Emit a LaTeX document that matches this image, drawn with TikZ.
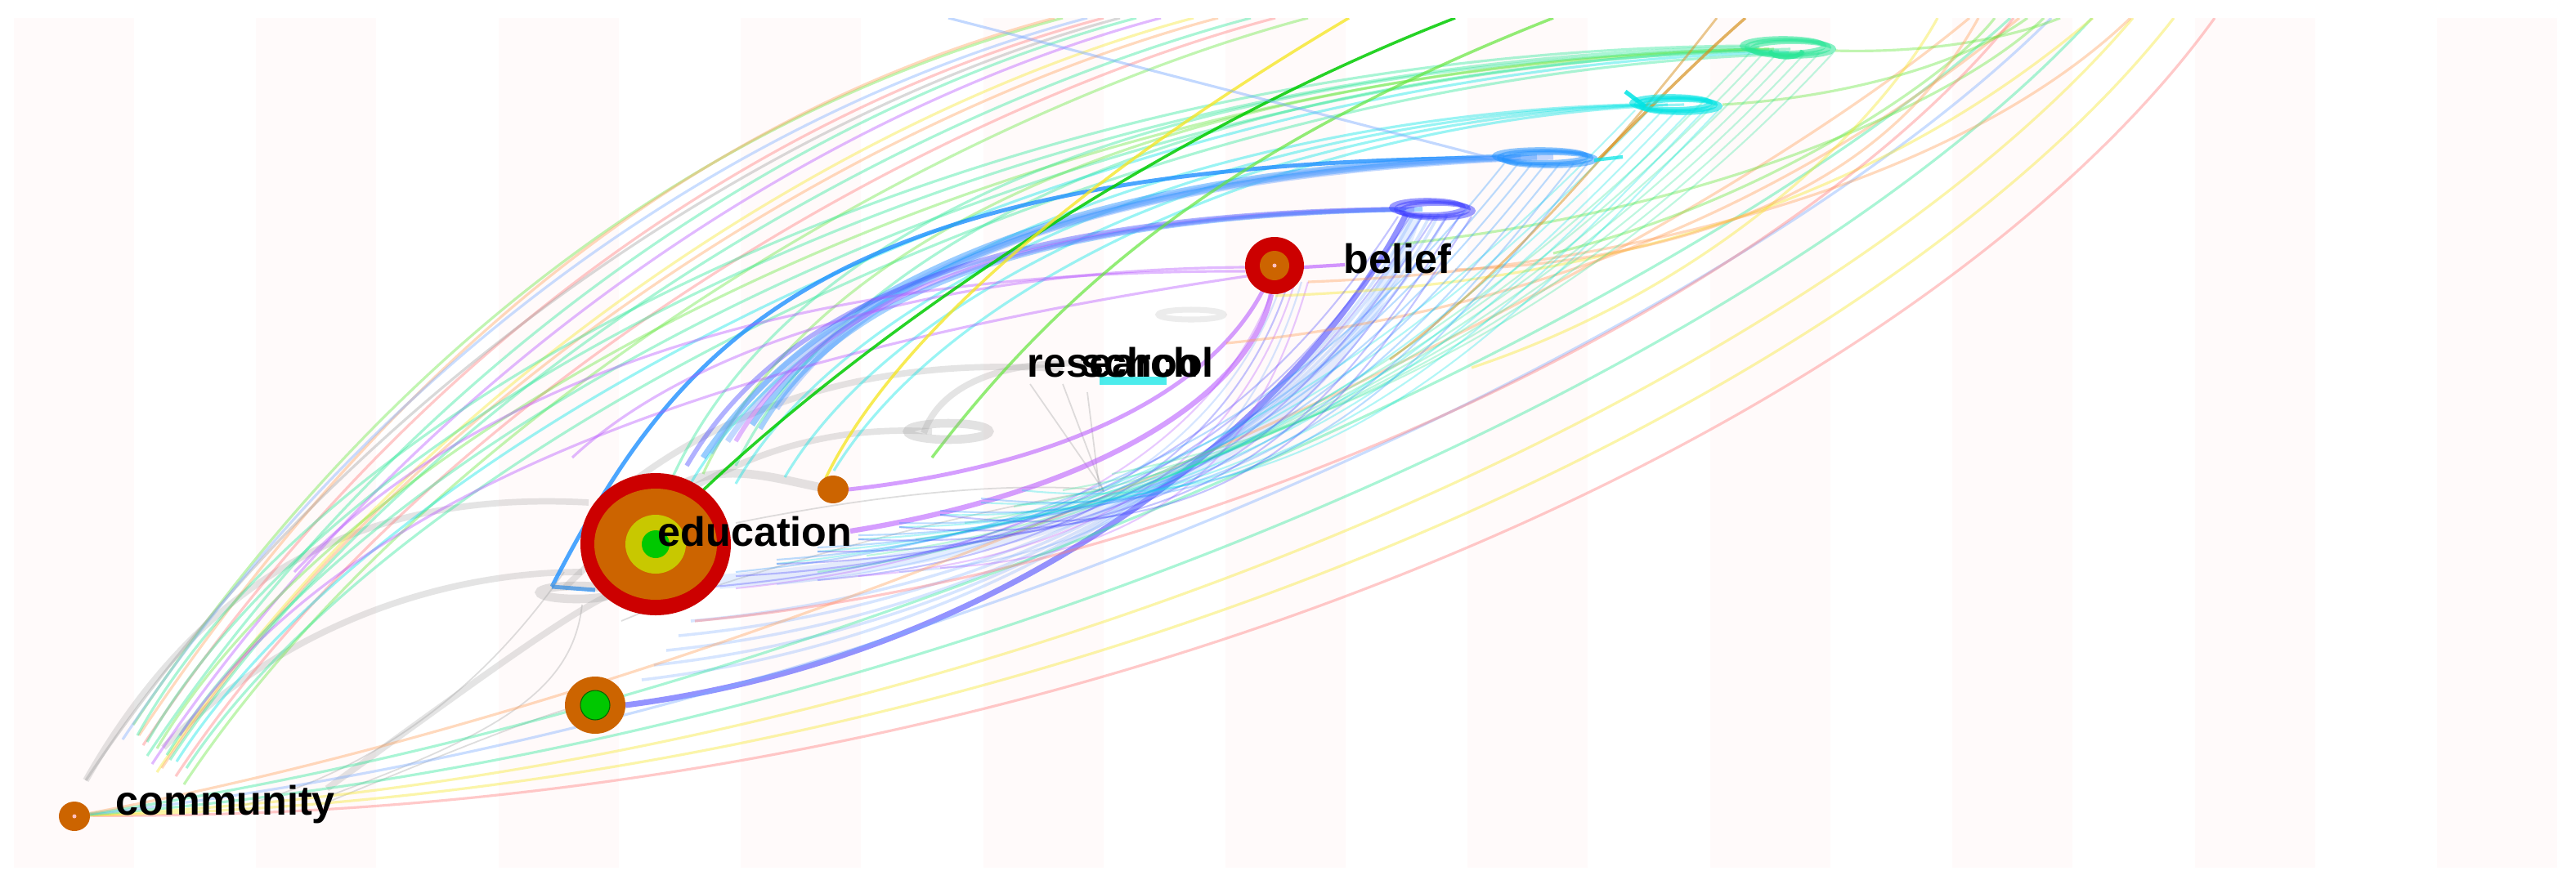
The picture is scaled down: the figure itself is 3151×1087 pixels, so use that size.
\documentclass[tikz,border=0pt]{standalone}
\usepackage{fontspec}
\setmainfont{Liberation Sans}
\definecolor{cred}{RGB}{204,0,0}
\definecolor{corange}{RGB}{204,100,0}
\definecolor{cyel}{RGB}{200,200,0}
\definecolor{cgreen}{RGB}{0,200,0}
\definecolor{stripe}{RGB}{255,250,250}
\definecolor{lgreen}{RGB}{100,230,60}
\definecolor{teal1}{RGB}{40,230,150}
\definecolor{cyan1}{RGB}{0,228,228}
\definecolor{blue1}{RGB}{30,144,255}
\definecolor{dblue}{RGB}{60,60,255}
\definecolor{purp}{RGB}{180,80,255}
\definecolor{lorange}{RGB}{255,160,90}
\definecolor{lpink}{RGB}{255,120,120}
\definecolor{lyellow}{RGB}{245,230,40}
\definecolor{lblue}{RGB}{120,170,255}
\definecolor{greyc}{RGB}{160,160,160}
\definecolor{gold}{RGB}{215,145,30}
\begin{document}
\begin{tikzpicture}[x=0.01cm,y=-0.01cm,
  ln/.style={line width=0.9pt,opacity=0.4},
  hatch/.style={line width=0.6pt,opacity=0.3},
  thk/.style={line width=2pt,opacity=0.45},
  greyarc/.style={greyc,line width=2.2pt,opacity=0.28},
  greythin/.style={greyc,line width=0.5pt,opacity=0.35},
  lbl/.style={font=\bfseries\fontsize{14.3}{16}\selectfont,anchor=base west,inner sep=0pt,text=black}]
\useasboundingbox (0,0) rectangle (3151,1087);
\fill[white] (0,0) rectangle (3151,1087);
\foreach \k in {0,...,10}
  \fill[stripe] ({17+296.4*\k},22) rectangle ({164+296.4*\k},1062);
\begin{scope}
\clip (0,22) rectangle (3151,1062);
% grey arcs (community - education - school)
\draw[greyarc] (105,955) .. controls (250,700) and (450,600) .. (720,615);
\draw[greyarc] (200,915) .. controls (350,760) and (550,700) .. (712,700);
\draw[greyarc] (400,965) .. controls (560,850) and (680,760) .. (745,728);
\draw[greythin] (400,975) .. controls (600,900) and (700,850) .. (712,740);
\draw[greythin] (400,982) .. controls (550,920) and (650,880) .. (700,866);
\draw[greythin] (300,985) .. controls (500,930) and (620,800) .. (690,700);
\draw[greyarc] (690,720) .. controls (850,560) and (1000,520) .. (1140,528);
\draw[greyarc,line width=3pt] (840,590) .. controls (900,565) and (960,590) .. (1019,599);
\draw[greyarc] (1130,530) .. controls (1150,470) and (1230,440) .. (1330,445);
\draw[greyarc] (780,585) .. controls (950,460) and (1150,440) .. (1300,452);
\draw[greythin] (1260,470) -- (1350,600);
\draw[greythin] (1300,470) -- (1350,602);
\draw[greythin] (1330,480) -- (1345,600);
\draw[greythin] (900,640) .. controls (1100,600) and (1250,590) .. (1350,600);
\draw[greythin] (760,760) .. controls (900,700) and (1200,620) .. (1350,600);
% F1: long arcs from community to the top
\foreach \sx/\sy/\ex/\c in {163/887/1300/lgreen,170/900/1290/lorange,175/912/1350/lpink,180/925/1390/teal1,186/935/1420/purp,192/945/1460/lyellow,198/940/1490/lorange,105/955/1370/greyc,208/930/1530/teal1,215/950/1560/lpink,150/905/1330/lblue,225/960/1600/lgreen}
  \draw[ln,\c] (\sx,\sy) .. controls ({\sx+300},{\sy-450}) and ({\ex-450},142) .. (\ex,22);
% F2: to the green cluster
\foreach \i/\c in {0/teal1,1/teal1,2/lgreen,3/teal1,4/cyan1,5/teal1}
  \draw[ln,\c] ({168+12*\i},{900+8*\i}) .. controls ({400+20*\i},{480+10*\i}) and ({1200+40*\i},{62+4*\i}) .. ({2140+12*\i},{56+2*\i});
\foreach \i/\c in {0/teal1,1/lgreen,2/teal1}
  \draw[ln,\c] ({820+40*\i},{590-10*\i}) .. controls ({950+40*\i},300) and ({1350+50*\i},80) .. ({2150+20*\i},60);
% F3: cyan cluster
\foreach \i in {0,...,3}
  \draw[ln,cyan1] ({840+60*\i},{600-8*\i}) .. controls ({990+60*\i},330) and ({1500+40*\i},140) .. ({2000+20*\i},128);
% F4: blue cluster
\draw[blue1,line width=1.4pt,opacity=.8] (675,718) -- (728,722);
\draw[blue1,line width=1.4pt,opacity=.8] (675,718) .. controls (830,420) and (1000,200) .. (1830,193);
\foreach \i/\c in {0/blue1,1/lblue,2/blue1,3/lblue}
  \draw[thk,\c] ({860+30*\i},{560-20*\i}) .. controls ({980+30*\i},{380-20*\i}) and ({1250+40*\i},210) .. ({1840+20*\i},192);
% F5: dark blue cluster
\draw[lblue,line width=5pt,opacity=.2] (880,712) .. controls (1400,670) and (1650,520) .. (1730,262);
\draw[dblue,line width=2pt,opacity=.55] (765,863) .. controls (1250,800) and (1600,500) .. (1720,262);
\foreach \i in {1,...,5}
  \draw[lblue,line width=1pt,opacity=.3] ({770+15*\i},{850-18*\i}) .. controls ({1250+20*\i},{790-15*\i}) and ({1600+15*\i},{500-10*\i}) .. ({1720+10*\i},262);
\foreach \i/\c in {0/dblue,1/lblue,2/purp,3/blue1}
  \draw[\c,line width=1.6pt,opacity=.4] ({840+30*\i},{570-15*\i}) .. controls ({950+30*\i},{380-15*\i}) and ({1200+40*\i},262) .. ({1710+10*\i},256);
% F6: purple to belief
\draw[purp,line width=1.8pt,opacity=.55] (1040,650) .. controls (1350,600) and (1530,480) .. (1555,360);
\draw[purp,line width=1.4pt,opacity=.55] (1038,599) .. controls (1300,570) and (1480,480) .. (1545,355);
\draw[purp,ln] (700,560) .. controls (850,420) and (1150,330) .. (1523,327);
\draw[purp,ln] (360,700) .. controls (600,450) and (1000,330) .. (1523,332);
\draw[purp,ln] (220,900) .. controls (420,600) and (900,430) .. (1525,338);
\draw[purp,line width=1.2pt,opacity=.6] (1595,327) -- (1645,324);
\foreach \i/\c in {0/purp,1/lblue,2/dblue,3/purp,4/lblue,5/purp}
  \draw[\c,hatch] ({900+50*\i},{720-5*\i}) .. controls ({1300+30*\i},680) and ({1500+10*\i},520) .. ({1560+8*\i},345);
% F7: long lower arcs from community
\foreach \j/\c in {0/lpink,1/lyellow,2/lyellow,3/teal1,4/lblue,5/teal1,6/lorange}
  \draw[ln,\c] (95,998) .. controls ({1300-60*\j},{1010-28*\j}) and ({2350-60*\j},{520-25*\j}) .. ({2709-50*\j},22);
% F8: right bundle
\draw[ln,lorange] (1600,345) .. controls (2000,330) and (2400,220) .. (2606,22);
\draw[ln,lyellow] (1560,362) .. controls (2050,345) and (2350,200) .. (2560,22);
\draw[ln,lorange] (1500,420) .. controls (2000,370) and (2300,160) .. (2470,22);
\draw[ln,lgreen] (1700,300) .. controls (2100,260) and (2400,120) .. (2500,22);
\draw[ln,lgreen] (1900,310) .. controls (2150,250) and (2380,100) .. (2440,22);
\draw[ln,lyellow] (1800,450) .. controls (2100,350) and (2300,150) .. (2370,22);
\draw[ln,lpink] (850,760) .. controls (1500,700) and (2200,350) .. (2463,22);
\draw[ln,lgreen] (2245,62) .. controls (2350,65) and (2450,50) .. (2520,22);
\draw[ln,lgreen] (2107,128) .. controls (2250,120) and (2400,80) .. (2480,22);
\draw[ln,lorange] (1780,330) .. controls (2050,320) and (2300,240) .. (2420,22);
% F9: steep bundles into the clusters
\foreach \i in {0,...,6} {
  \draw[teal1,hatch] ({1000+60*\i},{700-20*\i}) .. controls ({1500+30*\i},{640-20*\i}) and ({1890+17*\i},335) .. ({2140+17*\i},65);
  \draw[cyan1,hatch] ({950+50*\i},{690-15*\i}) .. controls ({1450+30*\i},640) and ({1750+17*\i},395) .. ({2000+17*\i},135);
  \draw[blue1,hatch] ({900+50*\i},{700-15*\i}) .. controls ({1400+30*\i},650) and ({1640+17*\i},450) .. ({1840+17*\i},200);
  \draw[dblue,hatch] ({850+50*\i},{720-15*\i}) .. controls ({1350+30*\i},680) and ({1560+15*\i},495) .. ({1710+15*\i},265);
}
% bright single lines
\draw[green!80!black,line width=1pt,opacity=.85] (860,600) .. controls (1050,420) and (1400,170) .. (1780,22);
\draw[lgreen,line width=1pt,opacity=.7] (1140,560) .. controls (1300,350) and (1500,180) .. (1900,22);
\draw[lyellow,line width=1pt,opacity=.8] (1010,585) .. controls (1100,400) and (1350,200) .. (1650,22);
\draw[lblue,line width=.9pt,opacity=.45] (1160,22) -- (1830,195);
\draw[gold,line width=1pt,opacity=.7] (1955,195) .. controls (2020,130) and (2080,70) .. (2135,22);
\draw[gold,line width=.8pt,opacity=.5] (1700,440) .. controls (1850,330) and (2000,150) .. (2100,22);
% clusters
\foreach \d in {-6,0,6} {
  \draw[teal1,line width=1.6pt,opacity=.55] ({2187+\d},{58+\d/3}) ellipse (50 and 9);
  \draw[cyan1,line width=1.6pt,opacity=.6] ({2050+\d},{128+\d/3}) ellipse (48 and 8);
  \draw[blue1,line width=1.6pt,opacity=.5] ({1890+\d},{193+\d/3}) ellipse (56 and 8);
  \draw[dblue,line width=1.6pt,opacity=.5] ({1752+\d},{256+\d/3}) ellipse (44 and 9);
}
\draw[teal1,line width=1.5pt,opacity=.8] (2165,62) arc (180:0:20 and 8);
\draw[cyan1,line width=1.5pt,opacity=.85] (1988,112) -- (2012,130);
\draw[cyan1,line width=1.2pt,opacity=.7] (1950,196) -- (1985,192);
\draw[greyc,line width=3pt,opacity=.3] (1160,528) ellipse (50 and 10);
\draw[greyc,line width=3pt,opacity=.3] (705,725) ellipse (45 and 8);
\draw[greyc,line width=2pt,opacity=.2] (1457,385) ellipse (40 and 6);
\draw[cyan1,line width=3pt,opacity=.7] (1345,466) -- (1427,466);
\end{scope}
% nodes
\coordinate (edu) at (802,666);
\fill[cred] (edu) ellipse (92 and 87);
\fill[corange] (edu) ellipse (75 and 68);
\fill[cyel] (edu) ellipse (37 and 36);
\fill[cgreen] (edu) ellipse (17 and 17);
\coordinate (n2) at (728,863);
\fill[corange] (n2) ellipse (37 and 35);
\filldraw[fill=cgreen,draw=green!40!black,line width=.3pt] (n2) ellipse (18 and 18);
\coordinate (com) at (91,999);
\fill[corange] (com) ellipse (19 and 18);
\fill[pink] (com) circle (2.5);
\coordinate (n3) at (1019,599);
\fill[corange] (n3) ellipse (19 and 17);
\coordinate (bel) at (1559,325);
\fill[cred] (bel) ellipse (36 and 35);
\fill[corange] (bel) ellipse (18 and 18);
\fill[pink] (bel) circle (2.5);
% labels
\node[lbl] (leducation) at (804,668) {education};
\node[lbl] (lcommunity) at (141,997) {community};
\node[lbl] (lbelief) at (1643,334) {belief};
\node[lbl] (lresearch) at (1256,461) {research};
\node[lbl] (lschool) at (1322,461) {school};
\end{tikzpicture}
\end{document}
